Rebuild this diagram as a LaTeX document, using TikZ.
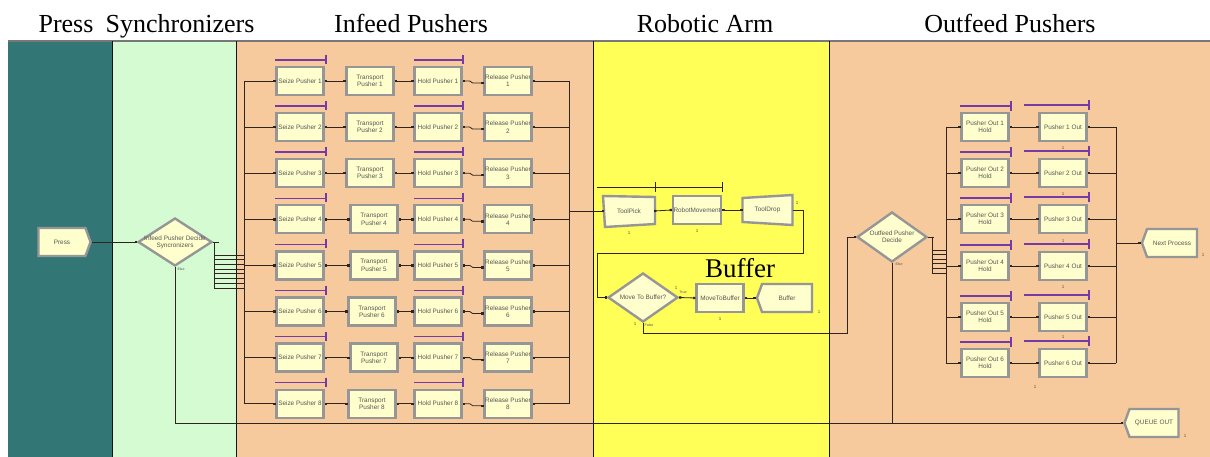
\documentclass[tikz,border=0pt]{standalone}
\usepackage{fontspec}
\setmainfont{Liberation Serif}
\newfontfamily\modfont{Liberation Sans}
\usetikzlibrary{shapes.geometric,shapes.symbols,arrows.meta,calc}

\definecolor{presslane}{RGB}{50,118,118}
\definecolor{synclane}{RGB}{213,251,210}
\definecolor{peachlane}{RGB}{246,202,157}
\definecolor{armlane}{RGB}{255,255,88}
\definecolor{modfill}{RGB}{255,255,206}
\definecolor{modedge}{RGB}{150,150,150}
\definecolor{modtext}{RGB}{85,85,85}
\definecolor{linkcol}{RGB}{48,36,30}
\definecolor{resline}{RGB}{118,58,168}
\definecolor{lanerule}{RGB}{20,20,20}
\definecolor{toprule}{RGB}{120,120,120}

\begin{document}
\begin{tikzpicture}[x=1pt,y=-1pt,
  modlabel/.style={font=\modfont\fontsize{6.4}{7.2}\selectfont, text=modtext, align=center},
  module/.style={modlabel, rectangle, draw=modedge, line width=2.4pt, fill=modfill, inner sep=0.5pt, minimum width=47pt, minimum height=28pt},
  bare/.style={modlabel, rectangle, inner sep=0.5pt, minimum width=50pt, minimum height=28pt},
  frame/.style={draw=modedge, line width=2.4pt, fill=modfill, line join=miter},
  decide/.style={diamond, draw=modedge, line width=2.4pt, fill=modfill, inner sep=0pt, minimum width=72pt, minimum height=48pt},
  station/.style={modlabel, signal, signal pointer angle=140, draw=modedge, line width=2.4pt, fill=modfill, inner sep=0.5pt, minimum width=52pt, minimum height=28pt},
  link/.style={draw=linkcol, line width=0.8pt},
  into/.style={link, -{Square[length=2.2pt,width=2.2pt]}},
  outof/.style={link, {Square[length=2.2pt,width=2.2pt]}-},
  both/.style={link, {Square[length=2.2pt,width=2.2pt]}-{Square[length=2.2pt,width=2.2pt]}},
  resbar/.style={draw=resline, line width=1.4pt},
  armbar/.style={draw=linkcol, line width=0.9pt},
  count/.style={font=\modfont\fontsize{4.5}{5}\selectfont, text=modtext, inner sep=0pt},
  tag/.style={font=\modfont\fontsize{3.6}{4}\selectfont, text=modtext, inner sep=0pt},
  lanetitle/.style={font=\fontsize{26}{30}\selectfont, anchor=base, inner sep=0pt},
]
\useasboundingbox (0,0) rectangle (1210,457);

% swim lanes
\fill[presslane] (8,41) rectangle (112,457);
\fill[synclane] (112,41) rectangle (236,457);
\fill[peachlane] (236,41) rectangle (593,457);
\fill[armlane] (593,41) rectangle (829,457);
\fill[peachlane] (829,41) rectangle (1210,457);
\draw[toprule, line width=1.2pt] (8,41) -- (1210,41);
\foreach \x in {112,236,593,829} \draw[lanerule, line width=1pt] (\x,41) -- (\x,457);

% lane titles
\node[lanetitle] (tpress) at (66,33) {Press};
\node[lanetitle] (tsync) at (180,33) {Synchronizers};
\node[lanetitle] (tin) at (411,33) {Infeed Pushers};
\node[lanetitle] (tarm) at (705,33) {Robotic Arm};
\node[lanetitle] (tout) at (1010,33) {Outfeed Pushers};

% press and synchronizer decision
\node[station, signal to=east] (press) at (62,242) {Press};
\node[decide, minimum width=74pt, minimum height=48pt] (indec) at (175,242) {};
\node[modlabel] (indectext) at (indec) {Infeed Pusher Decide\\Syncronizers};
\draw[into] (press.east) -- (indec.west);
\node[tag] (inelse) at (181,269) {Else};

% fan-out of the infeed decision
\coordinate (infan) at (214,242);
\draw[link] (indec.east) -- ++(6,0);
\draw[link] (infan) -- ++(0,46);
\foreach \k in {0,...,7} \draw[link] ($(infan)+(0,{13+4.7*\k})$) -- ++(30,0);

% infeed pusher rows
\foreach \i/\y/\tx in {1/81/370, 2/127.1/370, 3/173.2/370, 4/219.3/374, 5/265.4/374, 6/311.5/372, 7/357.6/374, 8/403.7/372} {
  \node[module] (seize\i) at (300,\y) {Seize Pusher \i};
  \node[module] (trans\i) at (\tx,\y) {Transport\\Pusher \i};
  \node[module] (hold\i) at (438,\y) {Hold Pusher \i};
  \node[module] (rel\i) at (508,\y) {Release Pusher\\\i};
  \coordinate (lb\i) at (244,\y);
  \coordinate (rb\i) at (569,\y);
  \draw[resbar] (275,\y-21) -- (326,\y-21) (326,\y-26) -- (326,\y-17);
  \draw[resbar] (414,\y-21) -- (463,\y-21) (463,\y-26) -- (463,\y-17);
  \draw[into] (lb\i) -- (seize\i.west);
  \draw[both] (seize\i.east) -- (trans\i.west);
  \draw[both] (trans\i.east) -- (hold\i.west);
  \draw[both] (hold\i.east) -- ++(7,0) -- ++(3,2) -- ($(rel\i.west)+(0,2)$);
  \draw[outof] (rel\i.east) -- (rb\i);
}
\draw[link] (lb1) -- (lb8);
\draw[link] (rb1) -- (rb8);

% robotic arm
\coordinate (armout) at (569,211);
\coordinate (tpc) at (629,211);
\draw[frame] ($(tpc)+(-26,-15)$) -- ($(tpc)+(26,-14)$) -- ($(tpc)+(26,13)$) -- ($(tpc)+(-24,16)$) -- cycle;
\node[bare] (tp) at (tpc) {ToolPick};
\node[module] (rm) at (697,210) {RobotMovement};
\coordinate (tdc) at (767.5,210);
\draw[frame] ($(tdc)+(-25,-12)$) -- ($(tdc)+(25,-15)$) -- ($(tdc)+(25,15)$) -- ($(tdc)+(-25,12)$) -- cycle;
\node[bare] (td) at (tdc) {ToolDrop};
\draw[armbar] (597,187) -- (655,187);
\draw[armbar] (655,182) -- (655,192) (655,187) -- (722,187) (722,182) -- (722,192);
\draw[into] (armout) -- (tp.west);
\draw[both] (tp.east) -- (rm.west);
\draw[both] (rm.east) -- (td.west);
\node[count] (ctp) at (629,233) {1};
\node[count] (crm) at (697,231) {1};
\node[count] (ctd) at (797,203) {1};

\node[decide, minimum width=70pt, minimum height=49pt] (mtb) at (643,297.5) {};
\node[modlabel] (mtbtext) at (mtb) {Move To Buffer?};
\node[module] (m2b) at (720,298) {MoveToBuffer};
\node[station, signal to=west, minimum width=55pt] (buf) at (787,298) {Buffer};
\coordinate (loopa) at (803,253);
\coordinate (loopb) at (597,253);
\draw[into] (td.east) -| (loopa) -- (loopb) |- (mtb.west);
\draw[both] (mtb.east) -- (m2b.west);
\draw[both] (m2b.east) -- (buf.west);
\node[count] (ctrue) at (676,288) {1};
\node[tag] (ttrue) at (683,292) {True};
\node[count] (cfalse) at (635,324) {1};
\node[tag] (tfalse) at (649,325) {False};
\node[count] (cm2b) at (720,319) {1};
\node[count] (cbuf) at (819,312) {1};
\node[font=\fontsize{27}{30}\selectfont, inner sep=0pt] (buflabel) at (740,268) {Buffer};

% outfeed decision
\node[decide, minimum width=70pt, minimum height=50pt] (outdec) at (892,237) {};
\node[modlabel] (outdectext) at (outdec) {Outfeed Pusher\\Decide};
\node[tag] (outelse) at (899,264) {Else};
\coordinate (loopc) at (847,333);
\draw[into] (mtb.south) |- (loopc) |- (outdec.west);

\coordinate (outfan) at (932,237);
\draw[link] (outdec.east) -- ++(6,0);
\draw[link] (outfan) -- ++(0,36);
\foreach \k in {0,...,5} \draw[link] ($(outfan)+(0,{13+4.6*\k})$) -- ++(14,0);

% outfeed pusher rows
\foreach \i/\y in {1/127, 2/173, 3/219, 4/266, 5/317, 6/363} {
  \node[module] (ph\i) at (985,\y) {Pusher Out \i\\Hold};
  \node[module] (po\i) at (1063,\y) {Pusher \i\ Out};
  \coordinate (olb\i) at (946,\y);
  \coordinate (orb\i) at (1116,\y);
  \draw[resbar] (960,\y-21) -- (1011,\y-21) (1011,\y-26) -- (1011,\y-16);
  \draw[resbar] (1024,\y-22) -- (1089,\y-22) (1089,\y-27) -- (1089,\y-17);
  \draw[into] (olb\i) -- (ph\i.west);
  \draw[both] (ph\i.east) -- (po\i.west);
  \draw[outof] (po\i.east) -- (orb\i);
}
\foreach \i/\y in {1/148, 2/194, 3/241, 4/287, 5/337} \node[count] (cpo\i) at (1063,\y) {1};
\node[count] (cph6) at (1035,387) {1};
\draw[link] (olb1) -- (olb6);
\draw[link] (orb1) -- (orb6);

\node[station, signal to=west, minimum width=55pt] (next) at (1172,243) {Next Process};
\coordinate (nextjoin) at (1116,243);
\draw[into] (nextjoin) -- (next.west);
\node[count] (cnext) at (1203,255) {1};

% queue out, fed by both decisions' else exits
\node[station, signal to=west, minimum width=54pt] (qout) at (1154,423) {QUEUE OUT};
\node[count] (cq) at (1185,436) {1};
\draw[into] (indec.south) |- (qout.west);
\draw[link] (outdec.south) -- (outdec.south |- qout.west);
\end{tikzpicture}
\end{document}
